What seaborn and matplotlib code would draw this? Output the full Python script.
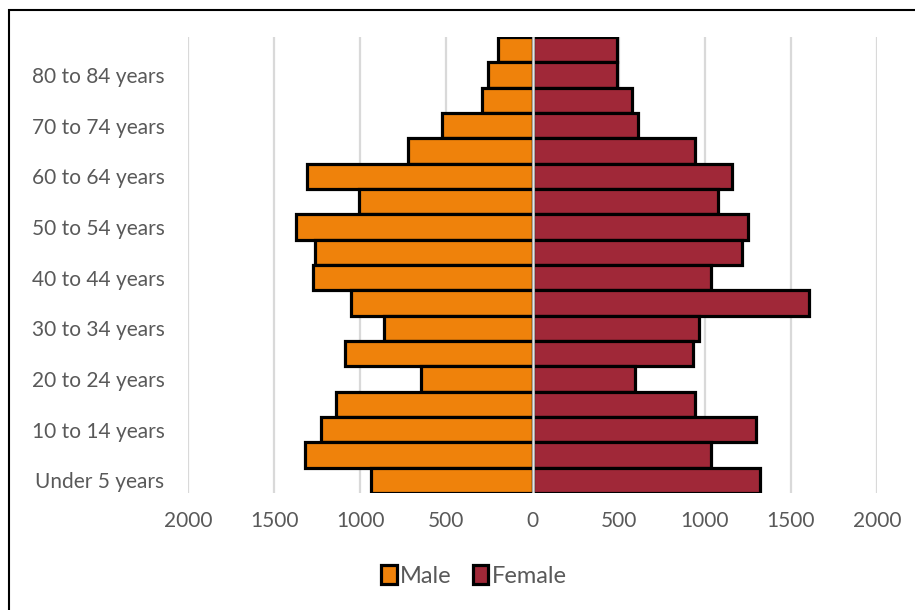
import matplotlib
matplotlib.use("Agg")
import matplotlib.pyplot as plt
from matplotlib.patches import Rectangle
from matplotlib.ticker import FuncFormatter
import seaborn as sns
import pandas as pd

# Age groups, youngest first
age_groups = [
    "Under 5 years", "5 to 9 years", "10 to 14 years", "15 to 19 years",
    "20 to 24 years", "25 to 29 years", "30 to 34 years", "35 to 39 years",
    "40 to 44 years", "45 to 49 years", "50 to 54 years", "55 to 59 years",
    "60 to 64 years", "65 to 69 years", "70 to 74 years", "75 to 79 years",
    "80 to 84 years", "85 years and over",
]
male = [940, 1320, 1225, 1140, 645, 1090, 860, 1055,
        1275, 1260, 1375, 1010, 1310, 725, 525, 295, 260, 200]
female = [1320, 1035, 1300, 945, 595, 930, 965, 1605,
          1035, 1215, 1250, 1075, 1160, 945, 615, 580, 488, 490]

x_ticks = [-2000, -1500, -1000, -500, 0, 500, 1000, 1500, 2000]

male_color = "#EF820B"
female_color = "#A02838"
text_color = "#595959"

df = pd.DataFrame({
    "age": age_groups * 2,
    "sex": ["Male"] * len(age_groups) + ["Female"] * len(age_groups),
    "value": [-v for v in male] + female,
})

sns.set_theme(style="white")
plt.rcParams["font.family"] = ["Lato", "DejaVu Sans"]

fig = plt.figure(figsize=(9.15, 6.10), dpi=100)
ax = fig.add_axes([188 / 915, 1 - 493 / 610, (877 - 188) / 915, (493 - 37) / 610])

order = age_groups[::-1]
sns.barplot(
    data=df, y="age", x="value", hue="sex", order=order,
    hue_order=["Male", "Female"], palette=[male_color, female_color],
    saturation=1, orient="h", dodge=False, width=1.0,
    edgecolor="black", linewidth=2.3, ax=ax, zorder=3,
)

ax.set_xlim(-2000, 2000)
ax.set_ylim(len(order) - 0.5, -0.5)
ax.set_xticks(x_ticks)
ax.xaxis.set_major_formatter(FuncFormatter(lambda v, _: f"{abs(int(v))}"))

shown = [i for i, a in enumerate(order) if (len(order) - 1 - i) % 2 == 0]
ax.set_yticks(shown)
ax.set_yticklabels([order[i] for i in shown])

ax.tick_params(axis="both", length=0, labelsize=15, labelcolor=text_color)
ax.tick_params(axis="y", pad=17)
ax.tick_params(axis="x", pad=13)
ax.set_xlabel("")
ax.set_ylabel("")
for s in ax.spines.values():
    s.set_visible(False)

for xv in x_ticks:
    if xv != 0:
        ax.axvline(xv, color="#d9d9d9", lw=1.6, zorder=1)
ax.axvline(0, color="#a6a6a6", lw=2.2, zorder=5)
ax.axvline(0, color="#f2f2f2", lw=0.6, zorder=6)

leg = ax.legend(
    loc="center", bbox_to_anchor=(474 / 915, 1 - 576 / 610),
    bbox_transform=fig.transFigure, ncol=2, frameon=False,
    handlelength=0.65, handleheight=0.85, handletextpad=0.15,
    columnspacing=0.9, fontsize=17,
)
for t in leg.get_texts():
    t.set_color(text_color)

# outer chart frame
fig.add_artist(Rectangle((8.5 / 915, -0.1), 1.2, 1.1 - 9.5 / 610,
                         transform=fig.transFigure, fill=False,
                         edgecolor="black", lw=1.5))

fig.savefig("out.png", dpi=100)
